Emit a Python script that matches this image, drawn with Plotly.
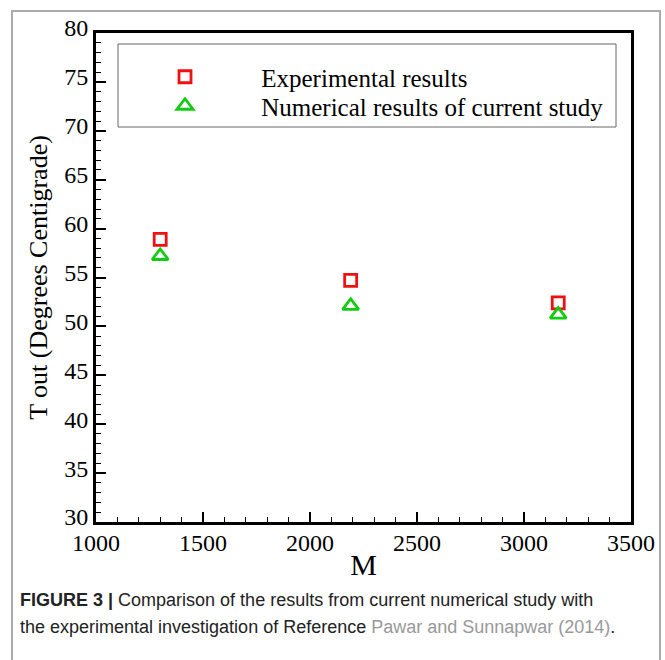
import plotly.graph_objects as go

# Data
m_exp = [1300, 2190, 3160]
t_exp = [58.9, 54.7, 52.4]
m_num = [1300, 2190, 3160]
t_num = [57.2, 52.1, 51.2]
series_names = ["Experimental results", "Numerical results of current study"]
x_title = "M"
y_title = "T out (Degrees Centigrade)"
caption_bold = "FIGURE 3 |"
caption_1 = " Comparison of the results from current numerical study with"
caption_2 = "the experimental investigation of Reference "
caption_ref = "Pawar and Sunnapwar (2014)"

W, H = 665, 660
L, R, T, B = 96, 34, 33, 138
pw, ph = W - L - R, H - T - B

def px_x(p):
    return (p - L) / pw

def px_y(p):
    return (H - B - p) / ph

serif = "Liberation Serif"
narrow = "Liberation Sans"
pad = "\u00a0" * 9
tickfont = dict(family=serif, size=24, color="black")

fig = go.Figure()
fig.add_trace(go.Scatter(
    x=m_exp, y=t_exp, mode="markers", name=pad + series_names[0], legend="legend",
    marker=dict(symbol="square-open", size=12, color="#ee1111",
                line=dict(width=2.8, color="#ee1111")),
))
fig.add_trace(go.Scatter(
    x=m_num, y=t_num, mode="markers", name=pad + series_names[1], legend="legend2",
    marker=dict(symbol="triangle-up-open", size=14, color="#11cc11",
                line=dict(width=2.8, color="#11cc11")),
))

axis_common = dict(
    showgrid=False, zeroline=False, showline=True, linecolor="black",
    linewidth=3, mirror=True, ticks="inside", ticklen=10, tickwidth=2,
    tickcolor="black",
)

fig.update_xaxes(
    range=[1000, 3500], dtick=500, tick0=1000, tickfont=tickfont,
    ticklabelstandoff=-3,
    minor=dict(ticks="inside", ticklen=5, tickwidth=1, dtick=100, tickcolor="black"),
    title=dict(text=x_title, font=dict(family=serif, size=30, color="black"), standoff=0),
    **axis_common,
)
fig.update_yaxes(
    range=[30, 80], dtick=5, tick0=30, tickfont=tickfont, ticklabelshift=-5,
    minor=dict(ticks="inside", ticklen=5, tickwidth=1, dtick=1, tickcolor="black"),
    title=dict(text=y_title, font=dict(family=serif, size=26, color="black"), standoff=10),
    **axis_common,
)

shapes = [
    dict(type="rect", xref="paper", yref="paper",
         x0=px_x(118), x1=px_x(616), y0=px_y(127), y1=px_y(44),
         line=dict(color="#666666", width=1), fillcolor="rgba(0,0,0,0)"),
    dict(type="rect", xref="paper", yref="paper",
         x0=px_x(12), x1=px_x(660), y0=px_y(720), y1=px_y(11),
         line=dict(color="#aaaaaa", width=2), fillcolor="rgba(0,0,0,0)", layer="below"),
]

capfont = dict(family=narrow, size=18, color="#222222")
annotations = [
    dict(xref="paper", yref="paper", x=px_x(18), y=px_y(600), xanchor="left", yanchor="middle",
         showarrow=False, align="left",
         text="<b>" + caption_bold + "</b>" + caption_1, font=capfont),
    dict(xref="paper", yref="paper", x=px_x(18), y=px_y(627), xanchor="left", yanchor="middle",
         showarrow=False, align="left",
         text=caption_2 + "<span style='color:#999999'>" + caption_ref + "</span>.", font=capfont),
]

legfont = dict(family=serif, size=25, color="black")
fig.update_layout(
    width=W, height=H,
    margin=dict(l=L, r=R, t=T, b=B, autoexpand=False),
    paper_bgcolor="white", plot_bgcolor="white",
    showlegend=True,
    legend=dict(x=px_x(165), y=px_y(77), xanchor="left", yanchor="middle",
                bgcolor="rgba(0,0,0,0)", borderwidth=0, font=legfont),
    legend2=dict(x=px_x(165), y=px_y(106), xanchor="left", yanchor="middle",
                 bgcolor="rgba(0,0,0,0)", borderwidth=0, font=legfont),
    shapes=shapes, annotations=annotations,
)

fig.write_html("out.html")
